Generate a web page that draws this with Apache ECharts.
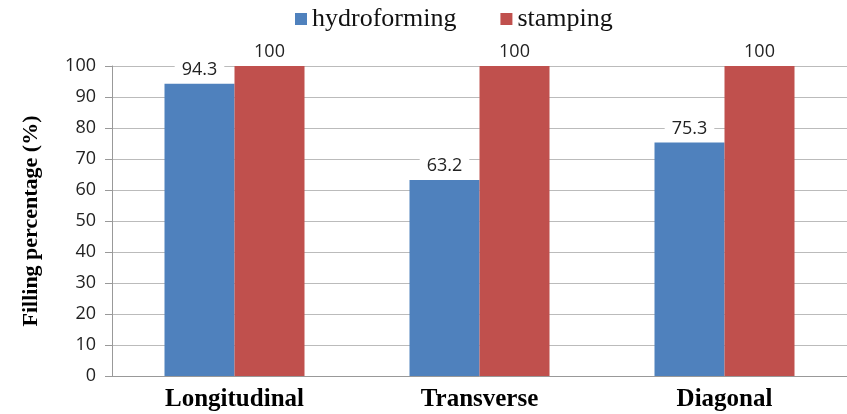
<!DOCTYPE html>
<html>
<head>
<meta charset="utf-8">
<script src="https://cdn.jsdelivr.net/npm/echarts@6/dist/echarts.min.js"></script>
<style>
  html, body { margin: 0; padding: 0; background: #fff; }
  #chart { width: 847px; height: 414px; }
</style>
</head>
<body>
<div id="chart"></div>
<script>
// Filling percentage by orientation, hydroforming vs stamping
const categories = ['Longitudinal', 'Transverse', 'Diagonal'];
const hydroforming = [94.3, 63.2, 75.3];
const stamping = [100, 100, 100];
const yTicks = [0, 10, 20, 30, 40, 50, 60, 70, 80, 90, 100];

const chart = echarts.init(document.getElementById('chart'));

const labelStyle = {
  show: true,
  position: 'top',
  distance: 5,
  fontFamily: 'Open Sans, Noto Sans, sans-serif',
  fontSize: 18,
  color: '#222',
  backgroundColor: '#fff',
  padding: [0, 7, 0, 7]
};

chart.setOption({
  animation: false,
  legend: {
    top: 1,
    left: 290,
    itemWidth: 12,
    itemHeight: 12,
    itemGap: 44,
    itemTextGap: 6,
    icon: 'rect',
    textStyle: { fontFamily: 'Liberation Serif, serif', fontSize: 26, color: '#111' },
    data: ['hydroforming', 'stamping']
  },
  grid: { left: 112, right: -2, top: 66, bottom: 38 },
  xAxis: {
    type: 'category',
    data: categories,
    axisLine: { lineStyle: { color: '#999' } },
    axisTick: { show: false },
    axisLabel: {
      fontFamily: 'Liberation Serif, serif',
      fontWeight: 'bold',
      fontSize: 25,
      color: '#000',
      margin: 11
    }
  },
  yAxis: {
    type: 'value',
    min: yTicks[0],
    max: yTicks[yTicks.length - 1],
    interval: 10,
    name: 'Filling percentage (%)',
    nameLocation: 'middle',
    nameGap: 70,
    nameTextStyle: {
      fontFamily: 'Liberation Serif, serif',
      fontWeight: 'bold',
      fontSize: 22,
      color: '#000'
    },
    axisLine: { show: true, lineStyle: { color: '#999' } },
    axisTick: { show: true, length: 7, lineStyle: { color: '#999' } },
    splitLine: { lineStyle: { color: '#bbb' } },
    axisLabel: {
      fontFamily: 'Open Sans, Noto Sans, sans-serif',
      fontSize: 18,
      color: '#222',
      margin: 16
    }
  },
  series: [
    {
      name: 'hydroforming',
      type: 'bar',
      data: hydroforming,
      barWidth: 70,
      barGap: '0%',
      itemStyle: { color: '#4F81BD' },
      label: labelStyle
    },
    {
      name: 'stamping',
      type: 'bar',
      data: stamping,
      barWidth: 70,
      barGap: '0%',
      itemStyle: { color: '#C0504D' },
      label: labelStyle
    }
  ]
});
</script>
</body>
</html>
